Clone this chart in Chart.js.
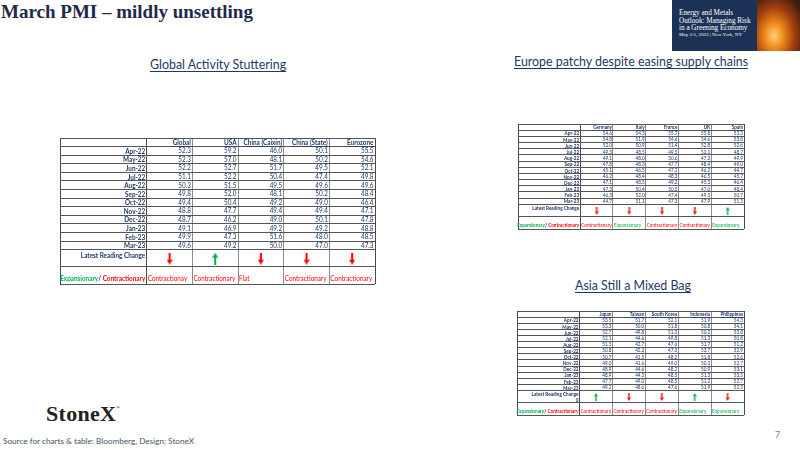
<!DOCTYPE html>
<html>
<head>
<meta charset="utf-8">
<script src="https://cdn.jsdelivr.net/npm/chart.js@4.4.1/dist/chart.umd.min.js"></script>
<style>
  body { margin: 0; width: 800px; height: 450px; position: relative; overflow: hidden; background: #fff; font-family: Lato, "Open Sans", sans-serif; }
  .abs { position: absolute; white-space: nowrap; }
  #title { left: 1px; top: 1px; font: bold 19px "Liberation Serif", serif; color: #1f2a4a; }
  .sub { color: #1f3864; font-size: 12.4px; text-decoration: underline; text-underline-offset: 2px; }
  #banner { left: 672px; top: 0; width: 128px; height: 51px; background: #1b3256; overflow: hidden; }
  #fire { position: absolute; left: 85px; top: 0; width: 43px; height: 51px;
    background: radial-gradient(ellipse at 40% 70%, #ffd27a 0%, #f08a1c 25%, #a4400e 55%, #3a1a10 90%); }
  .bt { position: absolute; left: 7px; color: #fff; font: 7.2px "Liberation Serif", serif; }
  #logo { left: 46px; top: 401px; font: bold 22px "Liberation Serif", serif; color: #222; letter-spacing: 0.3px; }
  #logo sup { font-size: 5px; vertical-align: 12px; }
  #src { left: 3px; top: 436px; font-size: 8.2px; color: #44546a; }
  #page { left: 775px; top: 429px; font-size: 9px; color: #7f7f7f; }
  canvas { position: absolute; }
</style>
</head>
<body>
<div id="title" class="abs">March PMI – mildly unsettling</div>
<div class="abs sub" style="left:150px; top:57px;">Global Activity Stuttering</div>
<div class="abs sub" style="left:514px; top:54px;">Europe patchy despite easing supply chains</div>
<div class="abs sub" style="left:575px; top:278px;">Asia Still a Mixed Bag</div>

<div id="banner" class="abs">
  <div id="fire"></div>
  <div class="bt" style="top:9px;">Energy and Metals</div>
  <div class="bt" style="top:16.5px;">Outlook: Managing Risk</div>
  <div class="bt" style="top:24px;">in a Greening Economy</div>
  <div class="bt" style="top:32px; font-size:5px;">May 3-5, 2023 | New York, NY</div>
</div>

<canvas id="globalTable" width="325" height="156" style="left:55px; top:133px;"></canvas>
<canvas id="europeTable" width="236" height="115" style="left:513px; top:119px;"></canvas>
<canvas id="asiaTable" width="237" height="114" style="left:512px; top:306px;"></canvas>

<div id="logo" class="abs">StoneX<sup>®</sup></div>
<div id="src" class="abs">Source for charts &amp; table: Bloomberg, Design: StoneX</div>
<div id="page" class="abs">7</div>

<script>
// -----------------------------
// Data
// -----------------------------
const months = ["Apr-22", "May-22", "Jun-22", "Jul-22", "Aug-22", "Sep-22",
  "Oct-22", "Nov-22", "Dec-22", "Jan-23", "Feb-23", "Mar-23"]

const globalCols = ["Global", "USA", "China (Caixin)", "China (State)", "Eurozone"]
const globalVals = [
  [52.3, 52.3, 52.2, 51.1, 50.3, 49.8, 49.4, 48.8, 48.7, 49.1, 49.9, 49.6],
  [59.2, 57.0, 52.7, 52.2, 51.5, 52.0, 50.4, 47.7, 46.2, 46.9, 47.3, 49.2],
  [46.0, 48.1, 51.7, 50.4, 49.5, 48.1, 49.2, 49.4, 49.0, 49.2, 51.6, 50.0],
  [50.1, 50.2, 49.5, 47.4, 49.6, 50.2, 49.0, 49.4, 50.1, 49.2, 48.0, 47.0],
  [55.5, 54.6, 52.1, 49.8, 49.6, 48.4, 46.4, 47.1, 47.8, 48.8, 48.5, 47.3]
]
const globalArrows = ["down", "up", "down", "down", "down"]
const globalStatus = ["Contractionay", "Contractionary", "Flat", "Contractionary", "Contractionary"]

const europeCols = ["Germany", "Italy", "France", "UK", "Spain"]
const europeVals = [
  [54.6, 54.8, 52.0, 49.3, 49.1, 47.8, 45.1, 46.2, 47.1, 47.3, 46.3, 44.7],
  [54.5, 51.9, 50.9, 48.5, 48.0, 48.3, 46.5, 48.4, 48.5, 50.4, 52.0, 51.1],
  [55.7, 54.6, 51.4, 49.5, 50.6, 47.7, 47.2, 48.3, 49.2, 50.5, 47.4, 47.3],
  [55.8, 54.6, 52.8, 52.1, 47.3, 48.4, 46.2, 46.5, 45.3, 47.0, 49.3, 47.9],
  [53.3, 53.8, 52.6, 48.7, 49.9, 49.0, 44.7, 45.7, 46.4, 48.4, 50.7, 51.3]
]
const europeArrows = ["down", "down", "down", "down", "up"]
const europeStatus = ["Contractionary", "Expansionary", "Contractionary", "Contractionary", "Expansionary"]

const asiaCols = ["Japan", "Taiwan", "South Korea", "Indonesia", "Philippines"]
const asiaVals = [
  [53.5, 53.3, 52.7, 52.1, 51.5, 50.8, 50.7, 49.0, 48.9, 48.9, 47.7, 49.2],
  [51.7, 50.0, 49.8, 44.6, 42.7, 42.2, 41.5, 41.6, 44.6, 44.3, 49.0, 48.6],
  [52.1, 51.8, 51.3, 49.8, 47.6, 47.3, 48.2, 49.0, 48.2, 48.5, 48.5, 47.6],
  [51.9, 50.8, 50.2, 51.3, 51.7, 53.7, 51.8, 50.3, 50.9, 51.3, 51.2, 51.9],
  [54.3, 54.1, 53.8, 50.8, 51.2, 52.9, 52.6, 52.7, 53.1, 53.5, 52.7, 52.5]
]
const asiaArrows = ["up", "down", "down", "up", "down"]
const asiaStatus = ["Contractionary", "Contractionary", "Contractionary", "Expansionary", "Expansionary"]

// -----------------------------
// Table geometry (in axis units)
// -----------------------------
const NAVY = "#1f3864"
const RED = "#ff0000"
const GREEN = "#00b050"
const SQUEEZE = 0.86 // Lato is wider than the Calibri of the original slide
const LABEL_W = 1.9
const X_BOUNDS = [0, LABEL_W, LABEL_W + 1, LABEL_W + 2, LABEL_W + 3, LABEL_W + 4, LABEL_W + 5]
const Y_BOUNDS = [0, 1, 2, 3, 4, 5, 6, 7, 8, 9, 10, 11, 12, 13, 15, 17]

function statusColor(s) {
  return s.startsWith("Exp") ? GREEN : RED
}

function arrowImg(dir, color, w, h, shaft, head) {
  const c = document.createElement("canvas")
  c.width = w
  c.height = h
  const g = c.getContext("2d")
  g.fillStyle = color
  if (dir === "up") {
    g.translate(0, h)
    g.scale(1, -1)
  }
  g.fillRect((w - shaft) / 2, 0, shaft, h - head)
  g.beginPath()
  g.moveTo(0, h - head)
  g.lineTo(w, h - head)
  g.lineTo(w / 2, h)
  g.closePath()
  g.fill()
  return c
}

// narrow text helper
function put(ctx, str, x, y, align) {
  ctx.save()
  ctx.translate(x, y)
  ctx.scale(SQUEEZE, 1)
  ctx.textAlign = align
  ctx.fillText(str, 0, 0)
  ctx.restore()
}
function widthOf(ctx, str) {
  return ctx.measureText(str).width * SQUEEZE
}

// draws header, row labels, values and status texts at the scale positions
const tableText = {
  id: "tableText",
  afterDatasetsDraw(chart) {
    const o = chart.options.plugins.tableText
    const { ctx, scales: { x, y } } = chart
    const colW = x.getPixelForValue(1) - x.getPixelForValue(0)
    const labRight = x.getPixelForValue(LABEL_W) - o.pad
    const f = (b) => `${b ? "bold " : ""}${o.fs}px Lato, sans-serif`
    ctx.save()
    ctx.textBaseline = "middle"

    chart.data.datasets.forEach((ds, j) => {
      const meta = chart.getDatasetMeta(j)
      if (ds.kind === "values") {
        ctx.font = f(false)
        ctx.fillStyle = NAVY
        meta.data.forEach((el, i) => {
          put(ctx, ds.values[i].toFixed(1), el.x + colW / 2 - o.pad, el.y, "right")
        })
        // column header, underlined
        const right = meta.data[0].x + colW / 2 - o.pad
        const hy = y.getPixelForValue(0.5) + 0.5
        ctx.font = f(true)
        put(ctx, ds.label, right, hy, "right")
        const tw = widthOf(ctx, ds.label)
        ctx.fillRect(right - tw, hy + o.fs * 0.45, tw, 0.6)
      }
      if (ds.kind === "status") {
        ctx.font = f(false)
        const sy = y.getPixelForValue(17) - o.fs * 0.75
        meta.data.forEach((el, i) => {
          ctx.fillStyle = statusColor(ds.labels[i])
          put(ctx, ds.labels[i], el.x - colW / 2 + 1, sy, "left")
        })
      }
    })

    // label column
    ctx.font = f(true)
    ctx.fillStyle = NAVY
    months.forEach((m, i) => {
      put(ctx, m, labRight, y.getPixelForValue(1.5 + i) + 0.5, "right")
    })
    const ly = y.getPixelForValue(13) + o.fs * 0.75
    o.latestLabel.forEach((t, k) => {
      put(ctx, t, labRight, ly + k * o.fs * 1.1, "right")
    })
    const ey = y.getPixelForValue(17) - o.fs * 0.75
    const wC = widthOf(ctx, "Contractionary")
    const wS = widthOf(ctx, "/ ")
    ctx.fillStyle = RED
    put(ctx, "Contractionary", labRight, ey, "right")
    ctx.fillStyle = NAVY
    put(ctx, "/ ", labRight - wC, ey, "right")
    ctx.fillStyle = GREEN
    put(ctx, "Expansionary", labRight - wC - wS, ey, "right")
    ctx.restore()
  }
}

function makeTable(id, cols, vals, arrows, status, o) {
  const centers = cols.map((c, j) => LABEL_W + j + 0.5)
  const up = arrowImg("up", GREEN, o.aw, o.ah, o.shaft, o.head)
  const down = arrowImg("down", RED, o.aw, o.ah, o.shaft, o.head)

  const datasets = cols.map((c, j) => ({
    kind: "values",
    label: c,
    values: vals[j],
    data: months.map((m, i) => ({ x: centers[j], y: 1.5 + i })),
    pointRadius: 0
  }))
  datasets.push({
    kind: "arrows",
    data: centers.map(cx => ({ x: cx, y: 14.05 })),
    pointStyle: arrows.map(d => (d === "up" ? up : down)),
    pointRadius: 3
  })
  datasets.push({
    kind: "status",
    labels: status,
    data: centers.map(cx => ({ x: cx, y: 16 })),
    pointRadius: 0
  })

  const axis = (bounds, colorFn) => ({
    type: "linear",
    min: bounds[0],
    max: bounds[bounds.length - 1],
    afterBuildTicks: a => { a.ticks = bounds.map(v => ({ value: v })) },
    ticks: { display: false },
    border: { display: false },
    grid: { drawTicks: false, color: colorFn, lineWidth: 1 }
  })

  new Chart(document.getElementById(id), {
    type: "scatter",
    data: { datasets },
    options: {
      responsive: false,
      animation: false,
      events: [],
      layout: { padding: 2 },
      plugins: {
        legend: { display: false },
        tooltip: { enabled: false },
        tableText: o
      },
      scales: {
        x: axis(X_BOUNDS, c => (c.index <= 1 || c.index === X_BOUNDS.length - 1 ? "#4a4a4a" : "#8c8c8c")),
        y: Object.assign(axis(Y_BOUNDS, c => "#555555"), { reverse: true })
      }
    },
    plugins: [tableText]
  })
}

makeTable("globalTable", globalCols, globalVals, globalArrows, globalStatus,
  { fs: 7.4, pad: 1.5, aw: 6, ah: 12, shaft: 2, head: 5, latestLabel: ["Latest Reading Change"] })
makeTable("europeTable", europeCols, europeVals, europeArrows, europeStatus,
  { fs: 5.4, pad: 1, aw: 4, ah: 8, shaft: 1.4, head: 3.5, latestLabel: ["Latest Reading Change"] })
makeTable("asiaTable", asiaCols, asiaVals, asiaArrows, asiaStatus,
  { fs: 5.4, pad: 1, aw: 4, ah: 8, shaft: 1.4, head: 3.5, latestLabel: ["Latest Reading Change", "0"] })
</script>
</body>
</html>
